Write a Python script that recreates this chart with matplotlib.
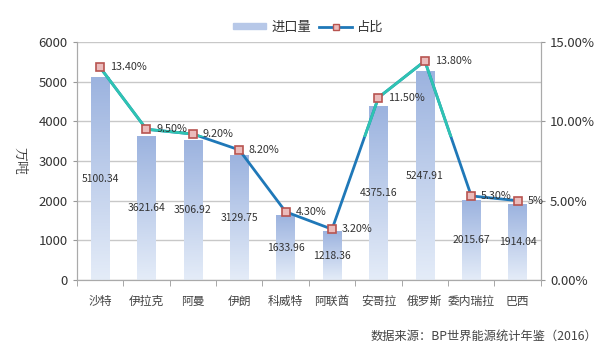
import numpy as np
import matplotlib.pyplot as plt
from matplotlib.patches import Rectangle
from matplotlib.colors import LinearSegmentedColormap

plt.rcParams['font.family'] = ['Noto Sans CJK SC', 'DejaVu Sans']

countries = ['沙特', '伊拉克', '阿曼', '伊朗', '科威特', '阿联酋', '安哥拉', '俄罗斯', '委内瑞拉', '巴西']
imports = [5100.34, 3621.64, 3506.92, 3129.75, 1633.96, 1218.36, 4375.16, 5247.91, 2015.67, 1914.04]
share = [13.40, 9.50, 9.20, 8.20, 4.30, 3.20, 11.50, 13.80, 5.30, 5.0]
share_labels = ['13.40%', '9.50%', '9.20%', '8.20%', '4.30%', '3.20%', '11.50%', '13.80%', '5.30%', '5%']

fig = plt.figure(figsize=(6.05, 3.62), dpi=100)
ax = fig.add_axes([0.127, 0.2265, 0.767, 0.6575])
x = np.arange(len(countries))

# bars with vertical gradient
bars = ax.bar(x, imports, width=0.4, color='none', zorder=2)
cmap = LinearSegmentedColormap.from_list('g', ['#e4ecf8', '#9cb3df'])
grad = np.linspace(0, 1, 100).reshape(-1, 1)
for b in bars:
    ax.imshow(grad, cmap=cmap, aspect='auto', origin='lower', zorder=2,
              extent=[b.get_x(), b.get_x() + b.get_width(), 0, b.get_height()])
ax.set_xlim(-0.5, len(countries) - 0.5)
ax.set_ylim(0, 6000)
ax.set_yticks(range(0, 6001, 1000))
ax.yaxis.grid(True, color='#c8c8c8', lw=1)
ax.set_axisbelow(True)

for xi, v in zip(x, imports):
    ax.text(xi, v / 2, f'{v:.2f}', ha='center', va='center', fontsize=7.5, color='#333333', zorder=5)

ax.set_xticks(x)
ax.set_xticklabels(countries, fontsize=8.5, color='#444444')
ax.set_xticks(np.arange(-0.5, len(countries), 1), minor=True)
ax.tick_params(axis='x', which='major', length=0, pad=11)
ax.tick_params(axis='x', which='minor', length=4, color='#999999')
ax.tick_params(axis='y', length=3, color='#999999', labelsize=9.5, labelcolor='#333333')
for s in ['left', 'bottom', 'right']:
    ax.spines[s].set_color('#aaaaaa')
ax.spines['top'].set_visible(False)
ax.set_ylabel('万吨', family=['Noto Serif CJK SC', 'Noto Sans CJK SC'], fontsize=10,
              rotation=270, labelpad=14, va='center', color='#333333')

ax2 = ax.twinx()
ax2.set_ylim(0, 15)
ax2.set_yticks([0, 5, 10, 15])
ax2.set_yticklabels(['0.00%', '5.00%', '10.00%', '15.00%'])
ax2.tick_params(axis='y', length=3, color='#999999', labelsize=9.5, labelcolor='#333333')
for s in ['left', 'bottom', 'right']:
    ax2.spines[s].set_color('#aaaaaa')
ax2.spines['top'].set_visible(False)

ax2.plot(x, share, color='#1f78b8', lw=2, zorder=3)
teal, = ax2.plot(x, share, color='#2fc4b2', lw=2, zorder=3.1)
clip = Rectangle((-1, 9.0), 12, 10, transform=ax2.transData)
teal.set_clip_path(clip)
ax2.plot(x, share, ls='none', marker='s', ms=6, mfc='#ebbcbc', mec='#b85450', mew=1.2, zorder=4)
for xi, v, lab in zip(x, share, share_labels):
    ax2.annotate(lab, (xi, v), xytext=(7, 0), textcoords='offset points',
                 ha='left', va='center', fontsize=7.8, color='#333333', zorder=5)

# legend
h1 = Rectangle((0, 0), 1, 1, color='#b7c8e8')
h2, = ax2.plot([], [], color='#1f78b8', lw=2, marker='s', ms=5, mfc='#ebbcbc', mec='#b85450')
fig.legend([h1, h2], ['进口量', '占比'], loc='center', bbox_to_anchor=(0.51, 0.925), ncol=2,
           frameon=False, fontsize=9.5, handlelength=2.5, handleheight=0.4, columnspacing=0.6,
           handletextpad=0.4, labelcolor='#333333')

fig.text(0.988, 0.07, '数据来源：BP世界能源统计年鉴（2016）', ha='right', va='center',
         fontsize=8.8, color='#444444')

fig.savefig('out.png', dpi=100)
